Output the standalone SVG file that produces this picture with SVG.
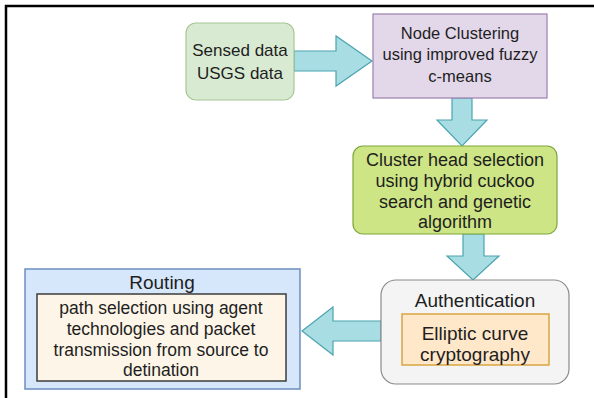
<svg xmlns="http://www.w3.org/2000/svg" width="594" height="398" viewBox="0 0 594 398">
  <style>
    text { font-family: "Liberation Sans", Arial, sans-serif; font-size: 15.5px; fill: #1e1e1e; text-anchor: middle; }
    .arrow { fill: #a8dde3; stroke: #4ba4b0; stroke-width: 1.2; stroke-linejoin: miter; }
    .f16 { font-size: 16.5px; }
    .f17 { font-size: 17px; }
    .f175 { font-size: 17.5px; }
    .f18 { font-size: 18px; }
    .f19 { font-size: 19px; }
  </style>
  <rect width="594" height="398" fill="#ffffff"/>
  <!-- page frame -->
  <path d="M6,398 V6 H594" fill="none" stroke="#000" stroke-width="2.5"/>

  <g id="connectors">
    <polygon class="arrow" points="294,51 336,51 336,36 372,61 336,86 336,71 294,71"/>
    <polygon class="arrow" points="452,98 472,98 472,120 487,120 462,146 437,120 452,120"/>
    <polygon class="arrow" points="463,234 484,234 484,256 499,256 473,280 447,256 463,256"/>
    <polygon class="arrow" points="381,321 333,321 333,307 302,331 333,355 333,341 381,341"/>
  </g>

  <g id="sensed-data">
    <rect x="186" y="23" width="108" height="77" rx="10" fill="#d9ead3" stroke="#a6c596" stroke-width="1.2"/>
    <text class="f17" x="240" y="56">Sensed data</text>
    <text class="f17" x="240" y="79">USGS data</text>
  </g>

  <g id="node-clustering">
    <rect x="373" y="14" width="174" height="84" fill="#e3d7ea" stroke="#9c7fae" stroke-width="1.2"/>
    <text class="f16" x="460" y="39">Node Clustering</text>
    <text class="f16" x="460" y="60">using improved fuzzy</text>
    <text class="f16" x="460" y="82">c-means</text>
  </g>

  <g id="cluster-head">
    <rect x="353" y="146" width="204" height="88" rx="10" fill="#cde585" stroke="#7ea63c" stroke-width="1.2"/>
    <text class="f18" x="455" y="166">Cluster head selection</text>
    <text class="f18" x="455" y="187">using hybrid cuckoo</text>
    <text class="f18" x="455" y="208">search and genetic</text>
    <text class="f18" x="455" y="228">algorithm</text>
  </g>

  <g id="authentication">
    <rect x="381" y="280" width="188" height="104" rx="15" fill="#f4f4f4" stroke="#8a8a8a" stroke-width="1.2"/>
    <text class="f19" x="475" y="307">Authentication</text>
    <rect x="402" y="314" width="147" height="51" fill="#ffe7c9" stroke="#d9a441" stroke-width="1.5"/>
    <text class="f19" x="475" y="340">Elliptic curve</text>
    <text class="f19" x="475" y="361">cryptography</text>
  </g>

  <g id="routing">
    <rect x="25" y="269" width="275" height="120" fill="#d6e6fb" stroke="#6c8ebf" stroke-width="1.5"/>
    <text class="f19" x="162" y="289">Routing</text>
    <rect x="37" y="294" width="249" height="87" fill="#fdf5e8" stroke="#3c3c3c" stroke-width="1.5"/>
    <text class="f175" x="161" y="314">path selection using agent</text>
    <text class="f175" x="161" y="335">technologies and packet</text>
    <text class="f175" x="161" y="356">transmission from source to</text>
    <text class="f175" x="161" y="376">detination</text>
  </g>
</svg>
